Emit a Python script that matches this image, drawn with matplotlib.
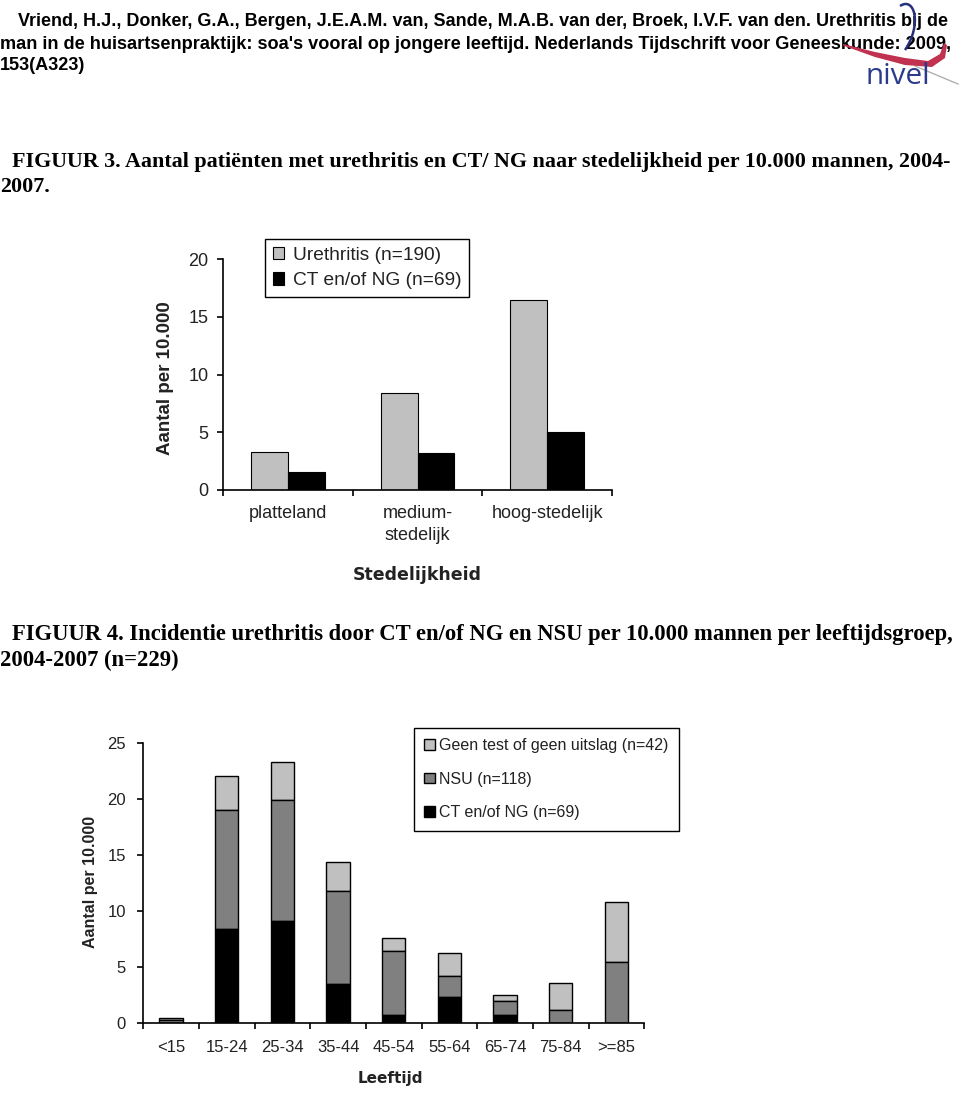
import matplotlib
matplotlib.use('Agg')
import matplotlib.pyplot as plt
import numpy as np
from matplotlib.path import Path
from matplotlib.patches import PathPatch, Polygon

W, H = 960, 1095

# figuur 3: per stedelijkheid
stad_cats = ['platteland', 'medium-\nstedelijk', 'hoog-stedelijk']
urethritis = [3.3, 8.4, 16.5]
ct_ng = [1.6, 3.2, 5.0]

# figuur 4: per leeftijdsgroep (gestapeld)
leeftijd = ['<15', '15-24', '25-34', '35-44', '45-54', '55-64', '65-74', '75-84', '>=85']
ct_ng_age = [0.0, 8.4, 9.1, 3.5, 0.7, 2.3, 0.7, 0.0, 0.0]
nsu_age = [0.25, 10.6, 10.8, 8.3, 5.7, 1.9, 1.3, 1.2, 5.5]
geen_age = [0.25, 3.0, 3.4, 2.6, 1.2, 2.1, 0.5, 2.4, 5.3]

header = ['Vriend, H.J., Donker, G.A., Bergen, J.E.A.M. van, Sande, M.A.B. van der, Broek, I.V.F. van den. Urethritis bij de',
          "man in de huisartsenpraktijk: soa's vooral op jongere leeftijd. Nederlands Tijdschrift voor Geneeskunde: 2009,",
          '153(A323)']
cap3 = ['FIGUUR 3. Aantal patiënten met urethritis en CT/ NG naar stedelijkheid per 10.000 mannen, 2004-', '2007.']
cap4 = ['FIGUUR 4. Incidentie urethritis door CT en/of NG en NSU per 10.000 mannen per leeftijdsgroep,',
        '2004-2007 (n=229)']

LIGHT = '#c0c0c0'
MID = '#808080'
TXT = '#222222'


def fx(x):
    return x / W


def fy(y):
    return 1 - y / H


fig = plt.figure(figsize=(9.6, 10.95), dpi=100)
renderer = fig.canvas.get_renderer()


def fit(t, width_px):
    w = t.get_window_extent(renderer).width
    t.set_fontsize(t.get_fontsize() * width_px / w)
    return t.get_fontsize()


# ---- header ----
h2 = fig.text(fx(0), fy(49), header[1], family='Liberation Sans', weight='bold', fontsize=12, va='baseline')
hs = fit(h2, 945)
h1 = fig.text(fx(18), fy(26), header[0], family='Liberation Sans', weight='bold', fontsize=hs, va='baseline')
fit(h1, 930)
fig.text(fx(0), fy(70), header[2], family='Liberation Sans', weight='bold', fontsize=hs, va='baseline')

# ---- captions ----
c3 = fig.text(fx(12), fy(167), cap3[0], family='Liberation Serif', weight='bold', fontsize=14, va='baseline')
cs = fit(c3, 938)
fig.text(fx(0), fy(192), cap3[1], family='Liberation Serif', weight='bold', fontsize=cs, va='baseline')
c4 = fig.text(fx(12), fy(640), cap4[0], family='Liberation Serif', weight='bold', fontsize=cs, va='baseline')
cs4 = fit(c4, 943)
fig.text(fx(0), fy(666), cap4[1], family='Liberation Serif', weight='bold', fontsize=cs4, va='baseline')


def style_axes(ax, n, ymax, ystep, fs, pad_x, pad_y):
    for s in ['top', 'right']:
        ax.spines[s].set_visible(False)
    for s in ['left', 'bottom']:
        ax.spines[s].set_linewidth(1.2)
    ax.set_xlim(0, n)
    ax.set_ylim(0, ymax)
    ax.set_yticks(np.arange(0, ymax + 0.1, ystep))
    ax.set_xticks(np.arange(0, n + 1))
    ax.set_xticklabels([])
    ax.tick_params(axis='x', which='major', length=4.5, width=1.2, direction='out')
    ax.tick_params(axis='y', length=4.5, width=1.2, direction='out', pad=pad_y, labelsize=fs, labelcolor=TXT)
    ax.tick_params(axis='x', which='minor', length=0, pad=pad_x, labelsize=fs, labelcolor=TXT)
    for lab in ax.get_yticklabels():
        lab.set_family('Liberation Sans')


# ---- figuur 3 ----
ax3 = fig.add_axes([fx(223), fy(490), (612 - 223) / W, (490 - 259.3) / H])
x = np.arange(len(stad_cats)) + 0.5
bw = 0.285
ax3.bar(x - bw / 2, urethritis, bw, color=LIGHT, edgecolor='black', linewidth=0.8, label='Urethritis (n=190)')
ax3.bar(x + bw / 2, ct_ng, bw, color='black', edgecolor='black', linewidth=0.8, label='CT en/of NG (n=69)')
style_axes(ax3, 3, 20, 5, 13, 11, 6)
ax3.set_xticks(x, minor=True)
ax3.set_xticklabels(stad_cats, minor=True, family='Liberation Sans', linespacing=1.35)
ax3.set_ylabel('Aantal per 10.000', family='Liberation Sans', weight='bold', fontsize=13.5, color=TXT)
ax3.yaxis.set_label_coords(fx(165), fy(378), transform=fig.transFigure)
ax3.set_xlabel('Stedelijkheid', family='DejaVu Sans', weight='bold', fontsize=12.5, color=TXT)
ax3.xaxis.set_label_coords(fx(417), fy(575), transform=fig.transFigure)
ax3.xaxis.label.set_va('center')
ax3.yaxis.label.set_va('center')
leg3 = ax3.legend(loc='upper left', bbox_to_anchor=(fx(265), fy(239)), bbox_transform=fig.transFigure,
                  borderaxespad=0, fancybox=False, edgecolor='black', framealpha=1,
                  prop={'family': 'Liberation Sans', 'size': 13.8}, handlelength=0.6, handleheight=0.6,
                  handletextpad=0.45, labelspacing=0.45, borderpad=0.4)
leg3.get_frame().set_linewidth(1.0)
for t in leg3.get_texts():
    t.set_color(TXT)

# ---- figuur 4 ----
ax4 = fig.add_axes([fx(143.3), fy(1023.3), (644.3 - 143.3) / W, (1023.3 - 742.7) / H])
x4 = np.arange(len(leeftijd)) + 0.5
bw4 = 0.42
b1 = np.array(ct_ng_age)
b2 = b1 + np.array(nsu_age)
ax4.bar(x4, geen_age, bw4, bottom=b2, color=LIGHT, edgecolor='black', linewidth=1.0,
        label='Geen test of geen uitslag (n=42)')
ax4.bar(x4, nsu_age, bw4, bottom=b1, color=MID, edgecolor='black', linewidth=1.0, label='NSU (n=118)')
ax4.bar(x4, ct_ng_age, bw4, color='black', edgecolor='black', linewidth=1.0, label='CT en/of NG (n=69)')
style_axes(ax4, 9, 25, 5, 12, 12, 8)
ax4.set_xticks(x4, minor=True)
ax4.set_xticklabels(leeftijd, minor=True, family='Liberation Sans')
ax4.set_ylabel('Aantal per 10.000', family='Liberation Sans', weight='bold', fontsize=11.5, color=TXT)
ax4.yaxis.set_label_coords(fx(90), fy(882), transform=fig.transFigure)
ax4.set_xlabel('Leeftijd', family='DejaVu Sans', weight='bold', fontsize=11, color=TXT)
ax4.xaxis.set_label_coords(fx(390), fy(1078), transform=fig.transFigure)
ax4.xaxis.label.set_va('center')
ax4.yaxis.label.set_va('center')
leg4 = ax4.legend(loc='upper left', bbox_to_anchor=(fx(414), fy(728)), bbox_transform=fig.transFigure,
                  borderaxespad=0, fancybox=False, edgecolor='black', framealpha=1,
                  prop={'family': 'Liberation Sans', 'size': 11.5}, handlelength=0.65, handleheight=0.65,
                  handletextpad=0.25, labelspacing=1.15, borderpad=0.65)
leg4.get_frame().set_linewidth(1.0)
for t in leg4.get_texts():
    t.set_color(TXT)

# ---- nivel logo ----
red_pts = [(843, 44), (875, 52), (905, 58), (928, 61), (940, 54), (944, 43),
           (947, 45), (945, 58), (932, 67), (905, 65), (875, 57), (843, 45.5)]
fig.patches.append(Polygon([(fx(a), fy(b)) for a, b in red_pts], closed=True,
                           transform=fig.transFigure, facecolor='#c0324f', edgecolor='none', zorder=5))
arc = Path([(fx(900), fy(6)), (fx(915), fy(-4)), (fx(922), fy(25)), (fx(905), fy(50))],
           [Path.MOVETO, Path.CURVE4, Path.CURVE4, Path.CURVE4])
fig.patches.append(PathPatch(arc, transform=fig.transFigure, facecolor='none', edgecolor='#25307a',
                             linewidth=1.8, zorder=5))
fig.add_artist(plt.Line2D([fx(915), fx(958)], [fy(66), fy(84)], transform=fig.transFigure,
                          color='#b0b0b0', linewidth=1.0, zorder=5))
logo = fig.text(fx(865), fy(84), 'nivel', family='Open Sans', fontsize=22, color='#2b3a8c', va='baseline', zorder=6)
fit(logo, 65)

fig.savefig('out.png', dpi=100)
